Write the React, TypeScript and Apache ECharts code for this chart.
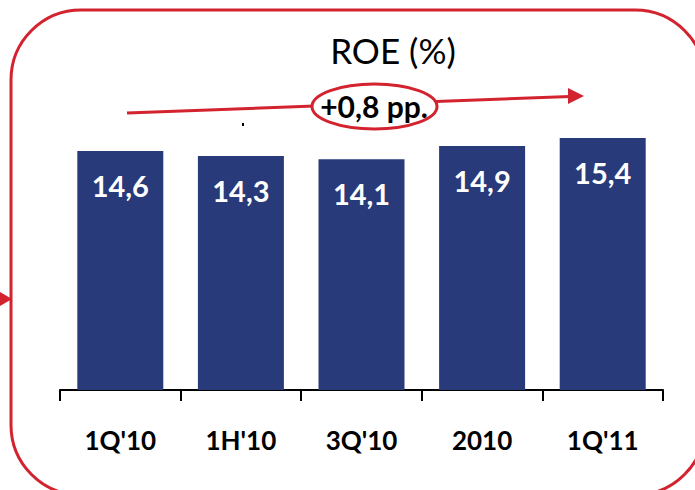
import React, { useEffect, useRef } from "react";
import * as echarts from "echarts";

const categories = ["1Q'10", "1H'10", "3Q'10", "2010", "1Q'11"];
const roeValues = [14.6, 14.3, 14.1, 14.9, 15.4];
const titleText = "ROE (%)";
const changeText = "+0,8 pp.";

const RED = "#d2232f";
const NAVY = "#283a7a";
const FONT = "Lato, 'Open Sans', sans-serif";

export default function App() {
  const ref = useRef<HTMLDivElement>(null);
  useEffect(() => {
    document.body.style.margin = "0";
    if (!ref.current) return;
    const chart = echarts.init(ref.current, null, { renderer: "svg" });
    chart.setOption({
      animation: false,
      backgroundColor: "#ffffff",
      grid: { left: 60, right: 32, top: 62.6, bottom: 100 },
      xAxis: {
        type: "category",
        data: categories,
        axisLine: { show: true, lineStyle: { color: "#000", width: 2 } },
        axisTick: { show: true, length: 11, lineStyle: { color: "#000", width: 2 } },
        axisLabel: {
          margin: 37,
          color: "#000",
          fontFamily: FONT,
          fontWeight: "bold",
          fontSize: 26,
        },
      },
      yAxis: { type: "value", min: 0, max: 20, show: false, splitLine: { show: false } },
      series: [
        {
          type: "bar",
          data: roeValues,
          barWidth: 86,
          itemStyle: { color: NAVY },
          label: {
            show: true,
            position: "insideTop",
            distance: 20,
            color: "#fff",
            fontFamily: FONT,
            fontWeight: "bold",
            fontSize: 29,
            formatter: (p: any) => Number(p.value).toFixed(1).replace(".", ","),
          },
        },
      ],
      graphic: [
        {
          type: "rect",
          shape: { x: 11, y: 10, width: 694, height: 485, r: 70 },
          style: { fill: "none", stroke: RED, lineWidth: 3 },
          z: 10,
        },
        {
          type: "polygon",
          shape: { points: [[0, 292], [12, 299], [0, 306]] },
          style: { fill: RED },
          z: 10,
        },
        {
          type: "text",
          x: 393,
          y: 50,
          style: {
            text: titleText,
            fill: "#000",
            font: `35px ${FONT}`,
            textAlign: "center",
            textVerticalAlign: "middle",
          },
          z: 10,
        },
        {
          type: "line",
          shape: { x1: 127, y1: 113, x2: 570, y2: 96.5 },
          style: { stroke: RED, lineWidth: 3 },
          z: 10,
        },
        {
          type: "polygon",
          shape: { points: [[568, 88], [584, 96], [568, 104]] },
          style: { fill: RED },
          z: 10,
        },
        {
          type: "ellipse",
          shape: { cx: 374.5, cy: 106.5, rx: 62.5, ry: 22.5 },
          style: { fill: "#fff", stroke: RED, lineWidth: 3 },
          z: 11,
        },
        {
          type: "text",
          x: 374,
          y: 106,
          style: {
            text: changeText,
            fill: "#000",
            font: `bold 30px ${FONT}`,
            textAlign: "center",
            textVerticalAlign: "middle",
          },
          z: 12,
        },
        {
          type: "rect",
          shape: { x: 242, y: 123, width: 2, height: 3 },
          style: { fill: "#000" },
          z: 10,
        },
      ],
    });
    return () => chart.dispose();
  }, []);
  return <div ref={ref} style={{ width: 695, height: 490 }} />;
}
